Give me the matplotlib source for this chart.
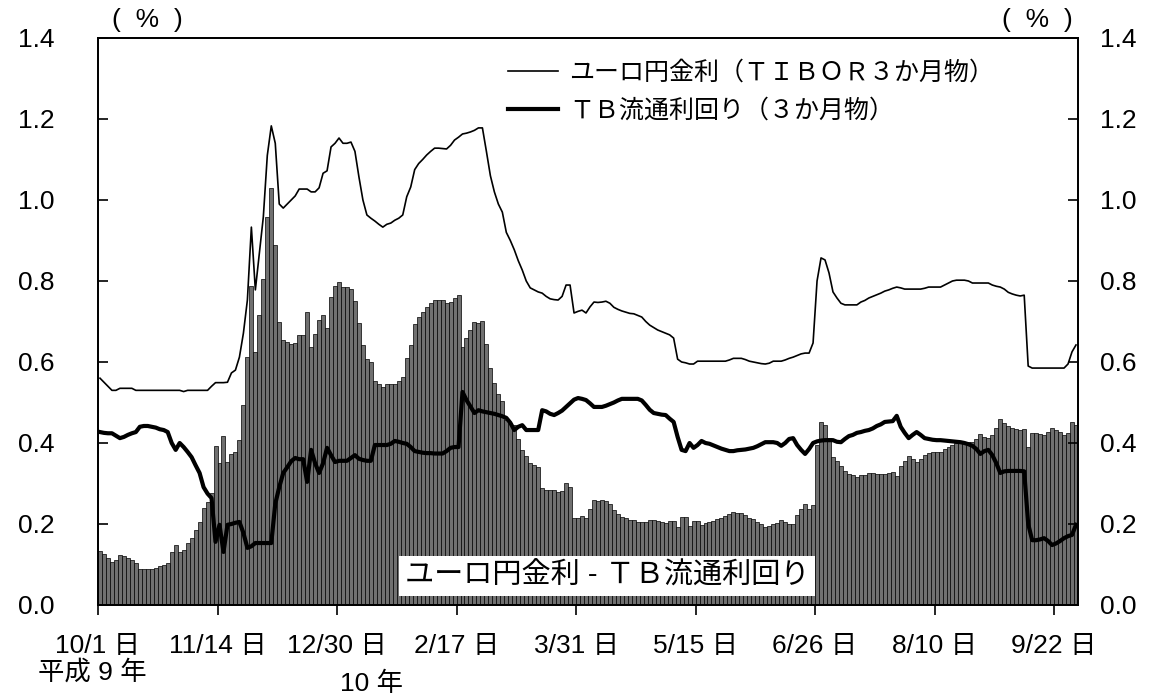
import numpy as np
import matplotlib.pyplot as plt

plt.rcParams['font.family'] = ['Liberation Sans', 'Noto Sans CJK JP']
plt.rcParams['font.size'] = 19

# daily values, 1997/10/1 - 1998/9/30 (business days)
tibor = [0.56, 0.55, 0.54, 0.53, 0.53, 0.535, 0.535, 0.535, 0.535, 0.53,
         0.53, 0.53, 0.53, 0.53, 0.53, 0.53, 0.53, 0.53, 0.53, 0.53,
         0.53, 0.527, 0.53, 0.53, 0.53, 0.53, 0.53, 0.53, 0.54, 0.549,
         0.549, 0.549, 0.55, 0.573, 0.58, 0.612, 0.671, 0.753, 0.933, 0.778,
         0.869, 0.958, 1.11, 1.183, 1.14, 0.99, 0.98, 0.99, 1.0, 1.01,
         1.027, 1.027, 1.027, 1.02, 1.02, 1.03, 1.066, 1.072, 1.131, 1.14,
         1.153, 1.14, 1.14, 1.143, 1.12, 1.057, 1.0, 0.963, 0.955, 0.948,
         0.94, 0.933, 0.94, 0.943, 0.95, 0.955, 0.963, 1.008, 1.032, 1.075,
         1.09, 1.10, 1.111, 1.12, 1.128, 1.128, 1.127, 1.126, 1.135, 1.148,
         1.155, 1.163, 1.165, 1.168, 1.172, 1.178, 1.178, 1.12, 1.06, 1.02,
         0.99, 0.97, 0.92, 0.90, 0.877, 0.85, 0.827, 0.80, 0.783, 0.778,
         0.773, 0.77, 0.762, 0.756, 0.754, 0.753, 0.762, 0.79, 0.79, 0.721,
         0.725, 0.728, 0.721, 0.736, 0.748, 0.747, 0.748, 0.75, 0.745, 0.735,
         0.73, 0.726, 0.723, 0.72, 0.719, 0.715, 0.711, 0.70, 0.691, 0.685,
         0.679, 0.675, 0.671, 0.667, 0.659, 0.607, 0.600, 0.598, 0.595, 0.595,
         0.602, 0.602, 0.602, 0.602, 0.602, 0.602, 0.602, 0.602, 0.605, 0.609,
         0.609, 0.609, 0.606, 0.602, 0.60, 0.598, 0.596, 0.595, 0.597, 0.602,
         0.602, 0.602, 0.605, 0.609, 0.612, 0.616, 0.62, 0.622, 0.622, 0.647,
         0.80, 0.857, 0.852, 0.82, 0.773, 0.758, 0.745, 0.741, 0.741, 0.741,
         0.741, 0.748, 0.752, 0.758, 0.762, 0.766, 0.77, 0.775, 0.778, 0.782,
         0.785, 0.783, 0.78, 0.78, 0.78, 0.78, 0.78, 0.782, 0.785, 0.785,
         0.785, 0.785, 0.79, 0.795, 0.80, 0.802, 0.802, 0.802, 0.80, 0.795,
         0.795, 0.795, 0.795, 0.795, 0.79, 0.787, 0.785, 0.78, 0.772, 0.768,
         0.765, 0.763, 0.765, 0.59, 0.585, 0.585, 0.585, 0.585, 0.585, 0.585,
         0.585, 0.585, 0.585, 0.595, 0.625, 0.642]

tb = [0.427, 0.425, 0.424, 0.424, 0.418, 0.412, 0.415, 0.42, 0.424, 0.427,
      0.44, 0.442, 0.442, 0.44, 0.438, 0.434, 0.432, 0.427, 0.40, 0.383,
      0.40, 0.39, 0.378, 0.365, 0.345, 0.326, 0.291, 0.275, 0.264, 0.156,
      0.198, 0.131, 0.198, 0.2, 0.203, 0.205, 0.178, 0.141, 0.145, 0.153,
      0.153, 0.153, 0.153, 0.153, 0.25, 0.291, 0.326, 0.34, 0.355, 0.363,
      0.36, 0.36, 0.304, 0.383, 0.35, 0.326, 0.35, 0.388, 0.37, 0.353,
      0.356, 0.356, 0.356, 0.363, 0.37, 0.361, 0.358, 0.356, 0.356, 0.395,
      0.395, 0.395, 0.395, 0.398, 0.405, 0.403, 0.40, 0.398, 0.39, 0.38,
      0.378, 0.376, 0.375, 0.375, 0.374, 0.374, 0.374, 0.38, 0.388, 0.39,
      0.39, 0.526, 0.506, 0.49, 0.474, 0.481, 0.478, 0.476, 0.474, 0.472,
      0.469, 0.466, 0.462, 0.45, 0.432, 0.44, 0.444, 0.432, 0.432, 0.432,
      0.432, 0.481, 0.478, 0.472, 0.469, 0.474, 0.48, 0.489, 0.498, 0.507,
      0.511, 0.509, 0.506, 0.498, 0.489, 0.489, 0.489, 0.492, 0.496, 0.50,
      0.505, 0.509, 0.509, 0.509, 0.509, 0.509, 0.505, 0.494, 0.482, 0.474,
      0.472, 0.47, 0.469, 0.46, 0.452, 0.415, 0.383, 0.38, 0.40, 0.388,
      0.395, 0.405, 0.40, 0.398, 0.394, 0.39, 0.386, 0.383, 0.38, 0.38,
      0.382, 0.383, 0.384, 0.386, 0.388, 0.392, 0.397, 0.402, 0.402, 0.402,
      0.40, 0.393, 0.40, 0.41, 0.412, 0.395, 0.383, 0.373, 0.385, 0.40,
      0.404, 0.406, 0.407, 0.407, 0.407, 0.403, 0.402, 0.41, 0.417, 0.42,
      0.425, 0.427, 0.43, 0.432, 0.436, 0.442, 0.446, 0.452, 0.453, 0.454,
      0.467, 0.44, 0.425, 0.412, 0.42, 0.427, 0.42, 0.412, 0.41, 0.408,
      0.407, 0.407, 0.406, 0.405, 0.404, 0.403, 0.402, 0.40, 0.397, 0.393,
      0.385, 0.373, 0.38, 0.383, 0.37, 0.35, 0.326, 0.33, 0.331, 0.331,
      0.331, 0.331, 0.33, 0.2, 0.16, 0.16, 0.162, 0.165, 0.158, 0.148,
      0.152, 0.158, 0.165, 0.17, 0.173, 0.198]

# spread = euro-yen minus TB
spread = np.array(tibor) - np.array(tb)

tick_pos = [0, 30, 60, 90, 120, 150, 180, 210, 240]
tick_labels = ['10/1 日', '11/14 日', '12/30 日', '2/17 日', '3/31 日',
               '5/15 日', '6/26 日', '8/10 日', '9/22 日']
ylabels = ['0.0', '0.2', '0.4', '0.6', '0.8', '1.0', '1.2', '1.4']

fig = plt.figure(figsize=(11.57, 6.97), dpi=100)
ax = fig.add_axes([0.0847, 0.132, 0.847, 0.8135])

x = np.arange(len(tibor)) + 0.5
ax.bar(x, spread, width=1.0, color='#707070', edgecolor='black', linewidth=0.5)
ax.plot(x, tibor, color='black', lw=1.2, label='ユーロ円金利（ＴＩＢＯＲ３か月物）')
ax.plot(x, tb, color='black', lw=3.0, label='ＴＢ流通利回り（３か月物）')

ax.set_xlim(0, 246)
ax.set_ylim(0, 1.4)
ax.set_xticks(tick_pos)
ax.set_xticklabels(tick_labels)
ax.set_yticks(np.arange(0, 1.41, 0.2))
ax.set_yticklabels(ylabels)
ax.tick_params(axis='x', direction='out', length=7, width=1.2, pad=14)
ax.tick_params(axis='y', direction='in', length=7, width=1.2, pad=31)

ax2 = ax.twinx()
ax2.set_ylim(0, 1.4)
ax2.set_yticks(np.arange(0, 1.41, 0.2))
ax2.set_yticklabels(ylabels)
ax2.tick_params(axis='y', direction='in', length=7, width=1.2, pad=16)

for a in (ax, ax2):
    for s in a.spines.values():
        s.set_linewidth(1.3)

ax.legend(loc='upper left', bbox_to_anchor=(508 / 1157, 1 - 61 / 697),
          bbox_transform=fig.transFigure, frameon=False, fontsize=18,
          handlelength=2.0, handletextpad=0.45, labelspacing=0.55,
          borderpad=0, borderaxespad=0)

fig.text(607 / 1157, 1 - 576 / 697, 'ユーロ円金利 - ＴＢ流通利回り',
         ha='center', va='center', fontsize=21,
         bbox=dict(facecolor='white', edgecolor='none', pad=4))

fig.text(147 / 1157, 1 - 20 / 697, '(  %  )', ha='center', va='center')
fig.text(1037 / 1157, 1 - 20 / 697, '(  %  )', ha='center', va='center')
fig.text(92 / 1157, 1 - 672 / 697, '平成 9 年', ha='center', va='center')
fig.text(372 / 1157, 1 - 684 / 697, '10 年', ha='center', va='center')

plt.savefig('out.png', dpi=100)
